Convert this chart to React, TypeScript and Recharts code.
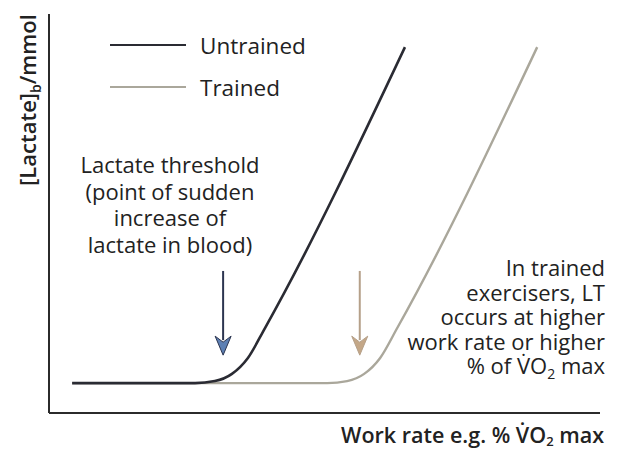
import { Line, LineChart, ReferenceLine, XAxis, YAxis } from 'recharts'

// work rate (% of range) and blood lactate (% of range)
const untrainedRate = [4.2, 26.5, 30.1, 33.2, 36.1, 39.2, 64.6]
const untrainedLactate = [7.5, 7.5, 8.0, 9.8, 13.8, 21.3, 91.7]
const trainedRate = [4.2, 50.5, 54.1, 57.2, 60.1, 63.2, 88.6]
const trainedLactate = [7.5, 7.5, 8.0, 9.8, 13.8, 21.3, 91.7]

// lactate threshold arrows: x position, top, tip
const thresholdRate = [31.6, 56.4]
const arrowTop = 35.6
const arrowTip = 14.5

const SERIES_NAMES = ['Untrained', 'Trained']
const COLORS = { untrained: '#2a2b33', trained: '#aaa79b' }
const ARROW = [
  { stroke: '#2c3550', fill: '#5d80b4' },
  { stroke: '#b5a089', fill: '#c4a787' },
]

const FONT = '"Open Sans", "DejaVu Sans", sans-serif'
const TEXT = '#222'
const AXIS = '#2b2b2b'

const untrained = untrainedRate.map((x, i) => ({ x, y: untrainedLactate[i] }))
const trained = trainedRate.map((x, i) => ({ x, y: trainedLactate[i] }))

function arrowShape(idx: number) {
  return (props: any) => {
    const { x1, y1, x2, y2 } = props
    const c = ARROW[idx]
    const headH = 19
    const headW = 8
    return (
      <g>
        <line x1={x1} y1={y1} x2={x2} y2={y2 - headH + 4} stroke={c.stroke} strokeWidth={2} />
        <polygon
          points={`${x2 - headW},${y2 - headH} ${x2},${y2 - headH + 6} ${x2 + headW},${y2 - headH} ${x2},${y2}`}
          fill={c.fill}
          stroke={c.stroke}
          strokeWidth={1}
        />
      </g>
    )
  }
}

function LegendBox() {
  const items = [
    { name: SERIES_NAMES[0], color: COLORS.untrained, width: 2.4 },
    { name: SERIES_NAMES[1], color: COLORS.trained, width: 2.2 },
  ]
  return (
    <div style={{ position: 'absolute', left: 110, top: 24, fontFamily: FONT, fontSize: 22.5, color: TEXT }}>
      {items.map(it => (
        <div key={it.name} style={{ display: 'flex', alignItems: 'center', height: 42 }}>
          <span style={{ width: 76, height: it.width, background: it.color, display: 'inline-block' }} />
          <span style={{ marginLeft: 14 }}>{it.name}</span>
        </div>
      ))}
    </div>
  )
}

const V_DOT = 'V\u0307'

export default function App() {
  return (
    <div style={{ position: 'absolute', left: 0, top: 0, width: 619, height: 450, background: '#fff' }}>
      <LineChart width={619} height={450} margin={{ top: 14, right: 19, bottom: 37, left: 49 }}>
        <XAxis type="number" dataKey="x" domain={[0, 100]} allowDataOverflow hide />
        <YAxis type="number" dataKey="y" domain={[0, 100]} allowDataOverflow hide />
        <ReferenceLine x={0} stroke={AXIS} strokeWidth={2} />
        <ReferenceLine y={0} stroke={AXIS} strokeWidth={2} />
        <Line
          data={trained}
          dataKey="y"
          name={SERIES_NAMES[1]}
          type="monotone"
          stroke={COLORS.trained}
          strokeWidth={2.4}
          dot={false}
          isAnimationActive={false}
        />
        <Line
          data={untrained}
          dataKey="y"
          name={SERIES_NAMES[0]}
          type="monotone"
          stroke={COLORS.untrained}
          strokeWidth={2.6}
          dot={false}
          isAnimationActive={false}
        />
        {thresholdRate.map((x, i) => (
          <ReferenceLine
            key={i}
            segment={[{ x, y: arrowTop }, { x, y: arrowTip }]}
            shape={arrowShape(i)}
          />
        ))}
      </LineChart>

      <LegendBox />

      <div
        style={{
          position: 'absolute',
          left: 60,
          top: 151,
          width: 220,
          textAlign: 'center',
          fontFamily: FONT,
          fontSize: 22,
          lineHeight: '26.7px',
          color: TEXT,
        }}
      >
        Lactate threshold
        <br />
        (point of sudden
        <br />
        increase of
        <br />
        lactate in blood)
      </div>

      <div
        style={{
          position: 'absolute',
          right: 14,
          top: 255,
          width: 260,
          textAlign: 'right',
          fontFamily: FONT,
          fontSize: 22,
          lineHeight: '24.5px',
          color: TEXT,
        }}
      >
        In trained
        <br />
        exercisers, LT
        <br />
        occurs at higher
        <br />
        work rate or higher
        <br />% of {V_DOT}O<sub style={{ fontSize: 14, lineHeight: 0 }}>2</sub> max
      </div>

      <div
        style={{
          position: 'absolute',
          right: 15,
          top: 424,
          fontFamily: FONT,
          fontSize: 21.5,
          lineHeight: '21px',
          fontWeight: 600,
          color: TEXT,
          whiteSpace: 'nowrap',
        }}
      >
        Work rate e.g. % {V_DOT}O<sub style={{ fontSize: 13, lineHeight: 0, verticalAlign: '-3px' }}>2</sub> max
      </div>

      <div
        style={{
          position: 'absolute',
          left: 27,
          top: 100,
          transform: 'translate(-50%, -50%) rotate(-90deg)',
          fontFamily: FONT,
          fontSize: 22,
          lineHeight: '22px',
          fontWeight: 600,
          color: TEXT,
          whiteSpace: 'nowrap',
        }}
      >
        [Lactate]<sub style={{ fontSize: 14, lineHeight: 0 }}>b</sub>/mmol
      </div>
    </div>
  )
}
